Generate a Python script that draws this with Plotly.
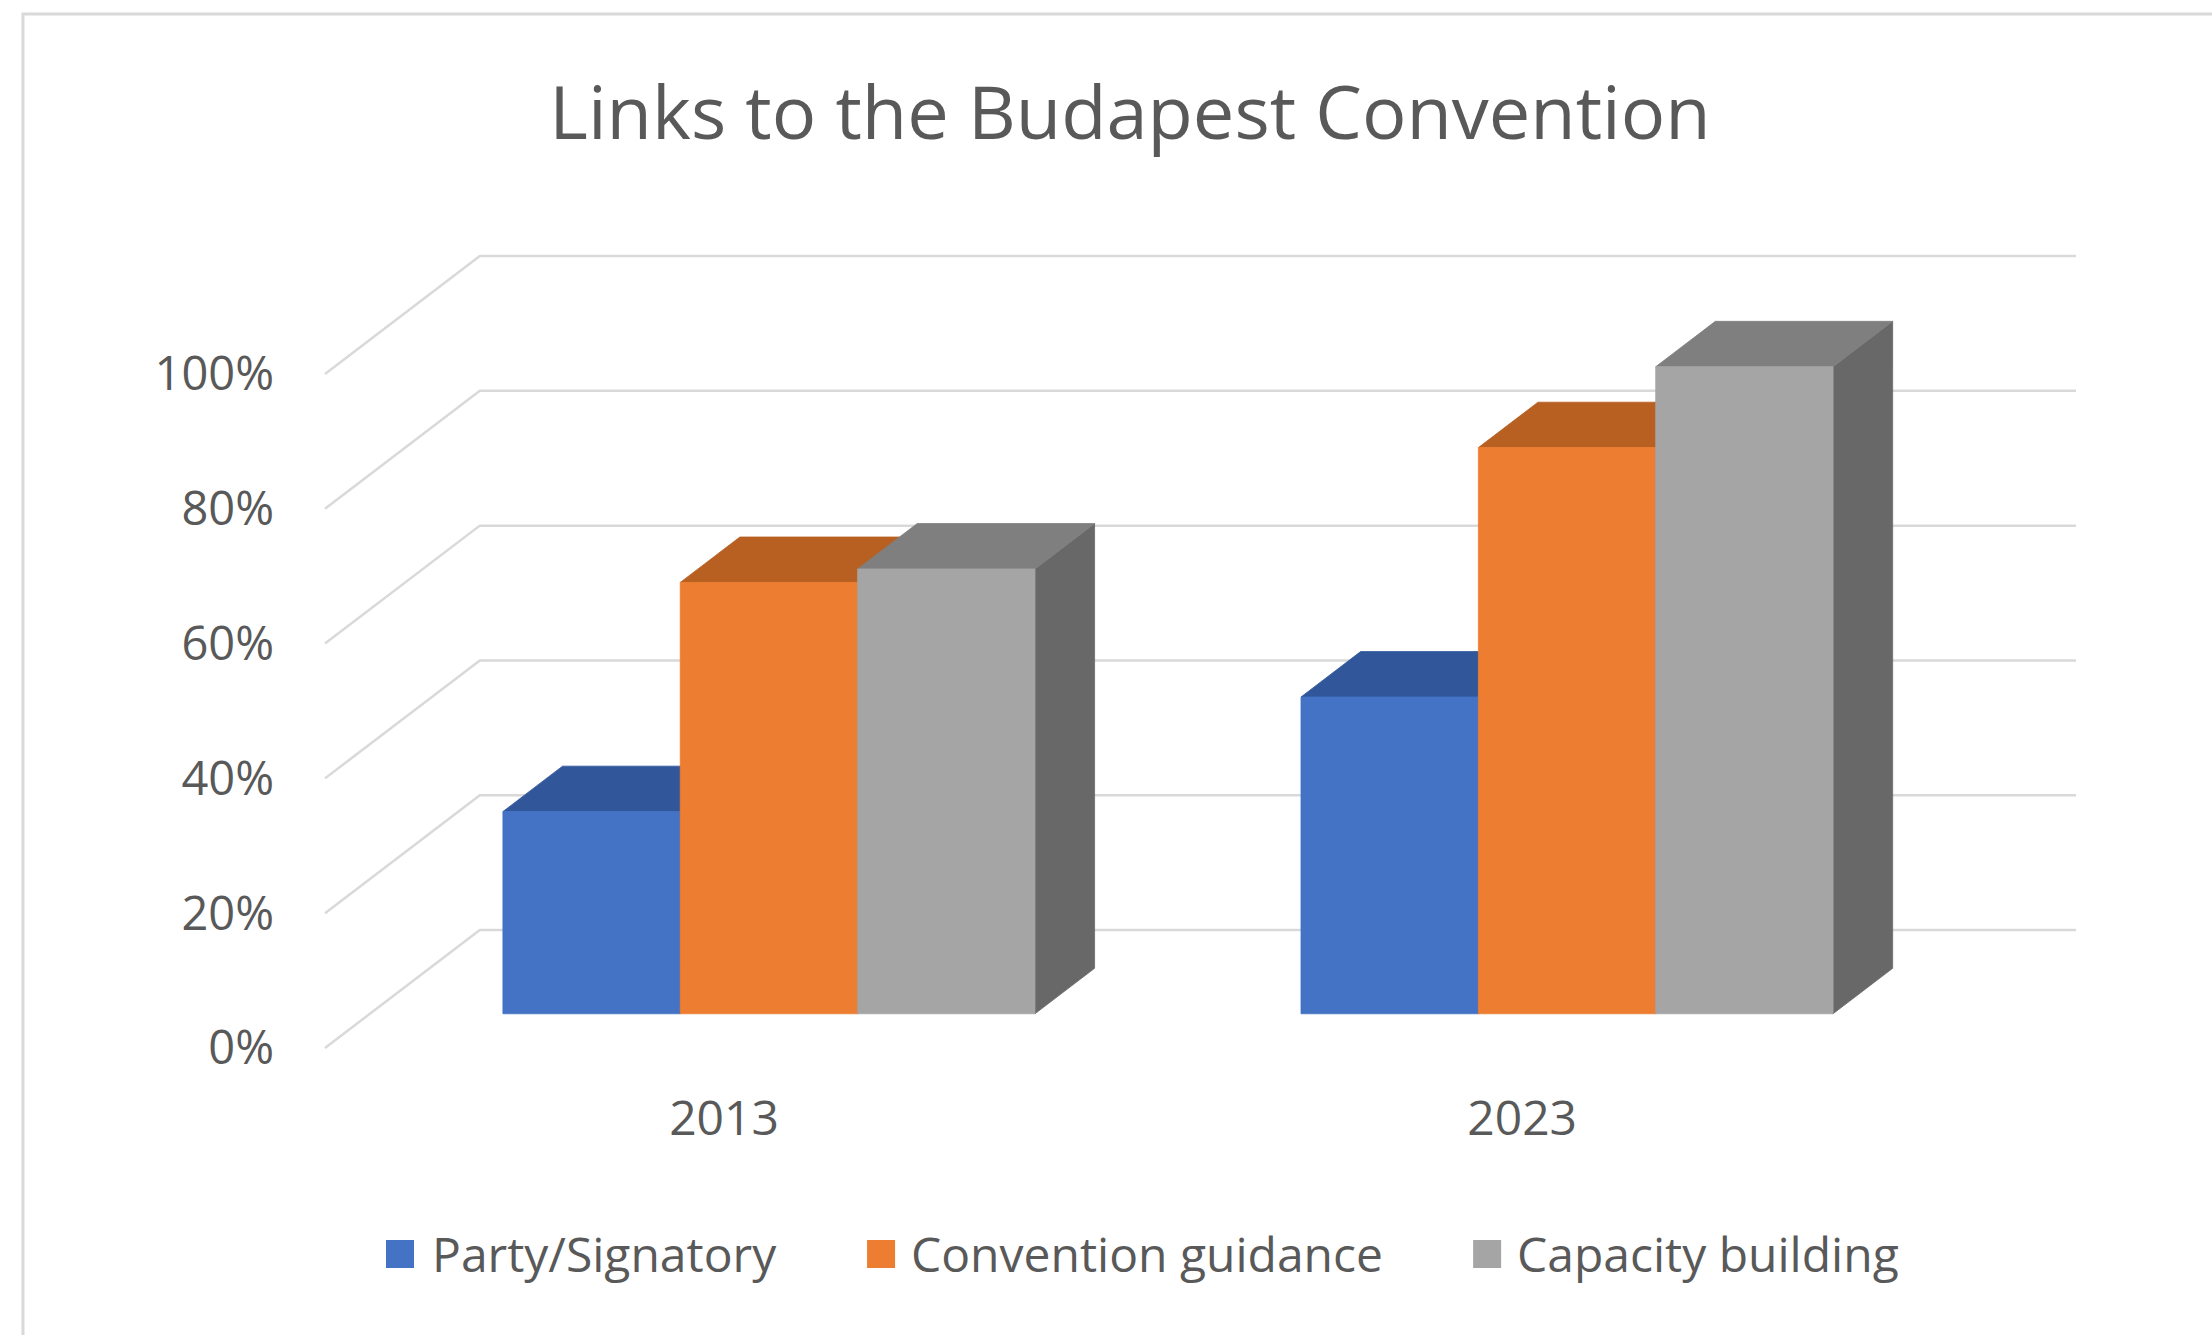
import plotly.graph_objects as go

# ---- data ----
years = ["2013", "2023"]
series_names = ["Party/Signatory", "Convention guidance", "Capacity building"]
party_signatory = [0.30, 0.47]
convention_guidance = [0.64, 0.84]
capacity_building = [0.66, 0.96]
y_tick_values = [0.0, 0.2, 0.4, 0.6, 0.8, 1.0]

series = [party_signatory, convention_guidance, capacity_building]

# ---- styling ----
front_colors = ["#4472C4", "#ED7D31", "#A5A5A5"]
top_colors = ["#31579A", "#B85F22", "#7F7F7F"]
side_colors = ["#2A4A85", "#9E501C", "#686868"]
GRID_COLOR = "#D9D9D9"
TEXT_COLOR = "#595959"
FONT = "Open Sans"

# oblique 3-D projection: depth of the plot box expressed in axis units
DEPTH_X = 0.194      # category units
DEPTH_Y = 0.175      # value units
BAR_FRONT = 0.29     # bar front plane, as a fraction of the box depth
BAR_BACK = 0.675     # bar back plane
GROUP_WIDTH = 2 / 3  # 50 % gap width

W, H = 2212, 1335
PX_PER_CAT = 798
PX_PER_VAL = 674
X_RANGE = [-0.505, 1.5 + DEPTH_X + 0.005]
Y_RANGE = [-0.006, 1.0 + DEPTH_Y + 0.006]
M_L, M_B = 321, 283
plot_w = (X_RANGE[1] - X_RANGE[0]) * PX_PER_CAT
plot_h = (Y_RANGE[1] - Y_RANGE[0]) * PX_PER_VAL
M_R = W - M_L - plot_w
M_T = H - M_B - plot_h


def paper_x(px):
    return (px - M_L) / plot_w


def paper_y(py):
    return (H - M_B - py) / plot_h


fig = go.Figure()

# ---- walls: oblique side-wall gridlines joined to the back-wall gridlines ----
gx, gy = [], []
for v in y_tick_values:
    gx += [-0.5, -0.5 + DEPTH_X, 1.5 + DEPTH_X, None]
    gy += [v, v + DEPTH_Y, v + DEPTH_Y, None]
fig.add_trace(go.Scatter(x=gx, y=gy, mode="lines",
                         line=dict(color=GRID_COLOR, width=2.5),
                         hoverinfo="skip", showlegend=False, cliponaxis=False))


def face(xs, ys, color):
    fig.add_trace(go.Scatter(x=xs + [xs[0]], y=ys + [ys[0]], mode="lines",
                             fill="toself", fillcolor=color,
                             line=dict(color=color, width=0.8),
                             hoverinfo="skip", showlegend=False, cliponaxis=False))


# ---- 3-D columns ----
bar_w = GROUP_WIDTH / len(series)
fx0, fy0 = BAR_FRONT * DEPTH_X, BAR_FRONT * DEPTH_Y
fx1, fy1 = BAR_BACK * DEPTH_X, BAR_BACK * DEPTH_Y
for ci, _ in enumerate(years):
    for si, vals in enumerate(series):
        v = vals[ci]
        xl = ci - GROUP_WIDTH / 2 + si * bar_w
        xr = xl + bar_w
        # right side face
        face([xr + fx0, xr + fx1, xr + fx1, xr + fx0],
             [fy0, fy1, v + fy1, v + fy0], side_colors[si])
        # top face
        face([xl + fx0, xr + fx0, xr + fx1, xl + fx1],
             [v + fy0, v + fy0, v + fy1, v + fy1], top_colors[si])
        # front face
        face([xl + fx0, xr + fx0, xr + fx0, xl + fx0],
             [fy0, fy0, v + fy0, v + fy0], front_colors[si])

# ---- legend (square swatches + labels) ----
shapes = []
annotations = []
legend_items = [(386, 430), (867, 909), (1473, 1515)]
legend_cy = 1254
sw = 28
for (sx, tx), name, col in zip(legend_items, series_names, front_colors):
    shapes.append(dict(type="rect", xref="paper", yref="paper",
                       x0=paper_x(sx), x1=paper_x(sx + sw),
                       y0=paper_y(legend_cy - sw / 2), y1=paper_y(legend_cy + sw / 2),
                       fillcolor=col, line=dict(width=0), layer="above"))
    annotations.append(dict(text=name, xref="paper", yref="paper",
                            x=paper_x(tx), y=paper_y(legend_cy),
                            xanchor="left", yanchor="middle", showarrow=False,
                            font=dict(family=FONT, size=48, color=TEXT_COLOR)))

# chart-area border
shapes.append(dict(type="rect", xref="paper", yref="paper",
                   x0=paper_x(23), x1=paper_x(W + 40),
                   y0=paper_y(H + 40), y1=paper_y(14),
                   line=dict(color="#D9D9D9", width=3), fillcolor="rgba(0,0,0,0)",
                   layer="below"))

fig.update_layout(
    width=W, height=H,
    margin=dict(l=M_L, r=M_R, t=M_T, b=M_B, autoexpand=False),
    paper_bgcolor="white", plot_bgcolor="white",
    showlegend=False,
    title=dict(text="Links to the Budapest Convention",
               xref="container", yref="container",
               x=1130 / W, xanchor="center",
               y=1 - 113 / H, yanchor="middle",
               font=dict(family=FONT, size=74, color=TEXT_COLOR)),
    xaxis=dict(range=X_RANGE, tickvals=list(range(len(years))), ticktext=years,
               showgrid=False, zeroline=False, showline=False, ticks="",
               ticklabelstandoff=34,
               tickfont=dict(family=FONT, size=48, color=TEXT_COLOR)),
    yaxis=dict(range=Y_RANGE, tickvals=y_tick_values, tickformat=".0%",
               showgrid=False, zeroline=False, showline=False, ticks="",
               ticklabelstandoff=46,
               tickfont=dict(family=FONT, size=47, color=TEXT_COLOR)),
    shapes=shapes,
    annotations=annotations,
)

fig.write_html("out.html")
